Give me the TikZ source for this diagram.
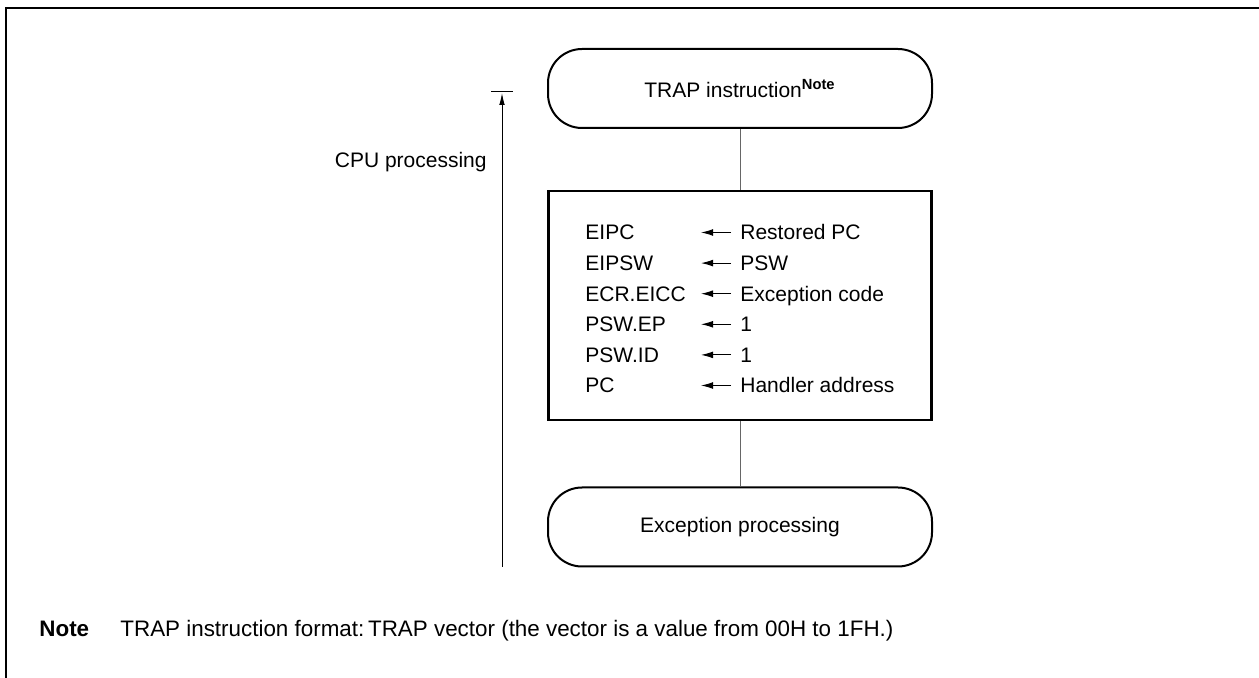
\documentclass[tikz,border=0pt]{standalone}
\usepackage{fontspec}
\setmainfont{Liberation Sans}
\usetikzlibrary{arrows.meta,calc,positioning}
\tikzset{
  txt/.style={font=\fontsize{10.5pt}{12pt}\selectfont, inner sep=0pt},
  notetxt/.style={font=\fontsize{11.2pt}{13pt}\selectfont, inner sep=0pt},
  term/.style={draw, line width=1pt, rounded corners=17pt, minimum width=192pt, minimum height=39.5pt, font=\fontsize{10.5pt}{12pt}\selectfont},
  regbox/.style={draw, line width=1.3pt, minimum width=191.5pt, minimum height=114.5pt},
  link/.style={black!60, line width=0.5pt},
  regarrow/.style={line width=0.5pt, -{Latex[length=6pt,width=3.4pt]}}
}

\begin{document}
\begin{tikzpicture}[x=0.5pt,y=-0.5pt]
        \useasboundingbox (0,0) rectangle (1259,678);
        %Frame
        \draw[line width=1.25pt] (6,678) -- (6,8) -- (1259,8);
        %Flow
        \node[term] (trap) at (740,88.5) {TRAP instruction\textsuperscript{\bfseries Note}};
        \node[regbox] (regs) at (740,305.5) {};
        \node[term] (exc) at (740,527) {Exception processing};
        \draw[link] (trap) -- (regs);
        \draw[link] (regs) -- (exc);
        %Register rows
        \node[txt, anchor=base west] (l1) at (585,240) {EIPC};
        \node[txt, anchor=base west] (l2) at (585,270.6) {EIPSW};
        \node[txt, anchor=base west] (l3) at (585,301.2) {ECR.EICC};
        \node[txt, anchor=base west] (l4) at (585,331.8) {PSW.EP};
        \node[txt, anchor=base west] (l5) at (585,362.4) {PSW.ID};
        \node[txt, anchor=base west] (l6) at (585,393) {PC};
        \node[txt, anchor=base west] (r1) at (740,240) {Restored PC};
        \node[txt, anchor=base west] (r2) at (740,270.6) {PSW};
        \node[txt, anchor=base west] (r3) at (740,301.2) {Exception code};
        \node[txt, anchor=base west] (r4) at (740,331.8) {1};
        \node[txt, anchor=base west] (r5) at (740,362.4) {1};
        \node[txt, anchor=base west] (r6) at (740,393) {Handler address};
        \draw[regarrow] ([shift={(-9,-7.5)}]r1.base west) -- ++(-30,0);
        \draw[regarrow] ([shift={(-9,-7.5)}]r2.base west) -- ++(-30,0);
        \draw[regarrow] ([shift={(-9,-7.5)}]r3.base west) -- ++(-30,0);
        \draw[regarrow] ([shift={(-9,-7.5)}]r4.base west) -- ++(-30,0);
        \draw[regarrow] ([shift={(-9,-7.5)}]r5.base west) -- ++(-30,0);
        \draw[regarrow] ([shift={(-9,-7.5)}]r6.base west) -- ++(-30,0);
        %CPU processing span
        \coordinate (cpubot) at (502,567);
        \coordinate (cputop) at (502,93);
        \draw[line width=0.5pt, -{Latex[length=6pt,width=2.8pt]}] (cpubot) -- (cputop);
        \draw[line width=0.5pt] ($(cputop)+(-11,-1)$) -- ($(cputop)+(11,-1)$);
        \node[txt, anchor=base east] (cpu) at (487,168) {CPU processing};
        %Note
        \node[notetxt, anchor=base west, font=\fontsize{11.2pt}{13pt}\selectfont\bfseries] (notelbl) at (39,636) {Note};
        \node[notetxt, anchor=base west] (notebody) at (120,636) {TRAP instruction format:\,TRAP vector (the vector is a value from 00H to 1FH.)};
      \end{tikzpicture}
\end{document}
